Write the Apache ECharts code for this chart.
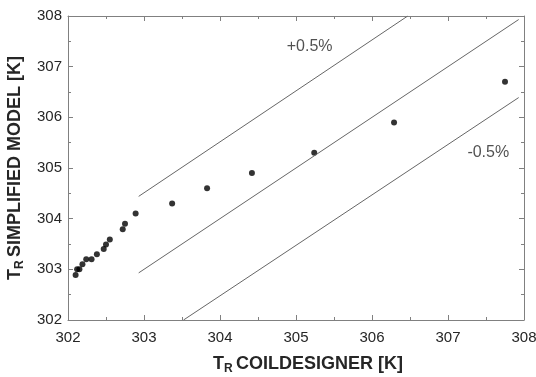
<!DOCTYPE html>
<html>
<head>
<meta charset="utf-8">
<script src="https://cdn.jsdelivr.net/npm/echarts@6/dist/echarts.min.js"></script>
<style>
  html, body { margin: 0; padding: 0; background: #fff; }
  #chart { width: 536px; height: 377px; }
</style>
</head>
<body>
<div id="chart"></div>
<script>
// measured points: [T_R CoilDesigner, T_R simplified model]
const coilDesigner = [302.10, 302.12, 302.15, 302.19, 302.24, 302.31, 302.38, 302.47, 302.50, 302.55,
                      302.72, 302.75, 302.89, 303.37, 303.83, 304.42, 305.24, 306.29, 307.75];
const simplified   = [302.89, 303.00, 303.00, 303.10, 303.20, 303.20, 303.30, 303.40, 303.49, 303.59,
                      303.79, 303.90, 304.10, 304.30, 304.60, 304.90, 305.30, 305.90, 306.70];

// guide lines (end points)
const plusLine  = [[302.93, 304.44], [306.47, 308.00]];
const idealLine = [[302.93, 302.93], [307.93, 307.93]];
const minusLine = [[303.52, 302.00], [307.93, 306.39]];

// line labels
const lineLabels = [
  { text: '+0.5%', at: [305.18, 307.39] },
  { text: '-0.5%', at: [307.53, 305.30] }
];

const axisMin = 302, axisMax = 308;

const gray = '#808080';
const textColor = '#262626';
const font = 'Liberation Sans, Arial, sans-serif';

const chart = echarts.init(document.getElementById('chart'));

function frameAxis(extra) {
  return Object.assign({
    type: 'value',
    min: axisMin,
    max: axisMax,
    interval: 1,
    axisLine: { show: true, lineStyle: { color: gray, width: 1 } },
    axisTick: { show: true, inside: true, length: 5, lineStyle: { color: gray } },
    minorTick: { show: true, splitNumber: 2, length: 3, lineStyle: { color: gray } },
    splitLine: { show: false },
    axisLabel: { show: false }
  }, extra);
}

const labelStyle = { show: true, color: textColor, fontSize: 15, fontFamily: font };

const titleRich = {
  b: { fontSize: 18, fontWeight: 'bold', fontFamily: font, color: textColor },
  s: { fontSize: 12, fontWeight: 'bold', fontFamily: font, color: textColor, verticalAlign: 'bottom', padding: [9, 0, 0, 0] }
};

const guideStyle = { color: '#666', width: 1 };

chart.setOption({
  animation: false,
  grid: { left: 68, right: 12, top: 16, bottom: 57, outerBoundsMode: 'none' },
  xAxis: [
    frameAxis({
      position: 'bottom',
      axisLabel: Object.assign({ margin: 10 }, labelStyle),
      name: '{b|T}{s|R} {b|COILDESIGNER [K]}',
      nameLocation: 'middle',
      nameGap: 34,
      nameTextStyle: { padding: [0, 0, 0, 24], rich: titleRich }
    }),
    frameAxis({ position: 'top' })
  ],
  yAxis: [
    frameAxis({
      position: 'left',
      axisLabel: Object.assign({ margin: 6 }, labelStyle),
      name: '{b|T}{s|R} {b|SIMPLIFIED MODEL [K]}',
      nameLocation: 'middle',
      nameGap: 42,
      nameTextStyle: { rich: titleRich }
    }),
    frameAxis({ position: 'right' })
  ],
  series: [
    { type: 'line', data: plusLine, symbol: 'none', lineStyle: guideStyle, silent: true },
    { type: 'line', data: idealLine, symbol: 'none', lineStyle: guideStyle, silent: true },
    { type: 'line', data: minusLine, symbol: 'none', lineStyle: guideStyle, silent: true },
    {
      type: 'scatter',
      data: coilDesigner.map((x, i) => [x, simplified[i]]),
      symbol: 'circle',
      symbolSize: 6,
      itemStyle: { color: '#000' }
    },
    {
      type: 'scatter',
      data: lineLabels.map(l => ({ value: l.at, name: l.text })),
      symbolSize: 0,
      label: {
        show: true,
        position: 'inside',
        formatter: p => p.name,
        color: textColor,
        fontSize: 16,
        fontFamily: font
      },
      silent: true
    }
  ]
});
</script>
</body>
</html>
